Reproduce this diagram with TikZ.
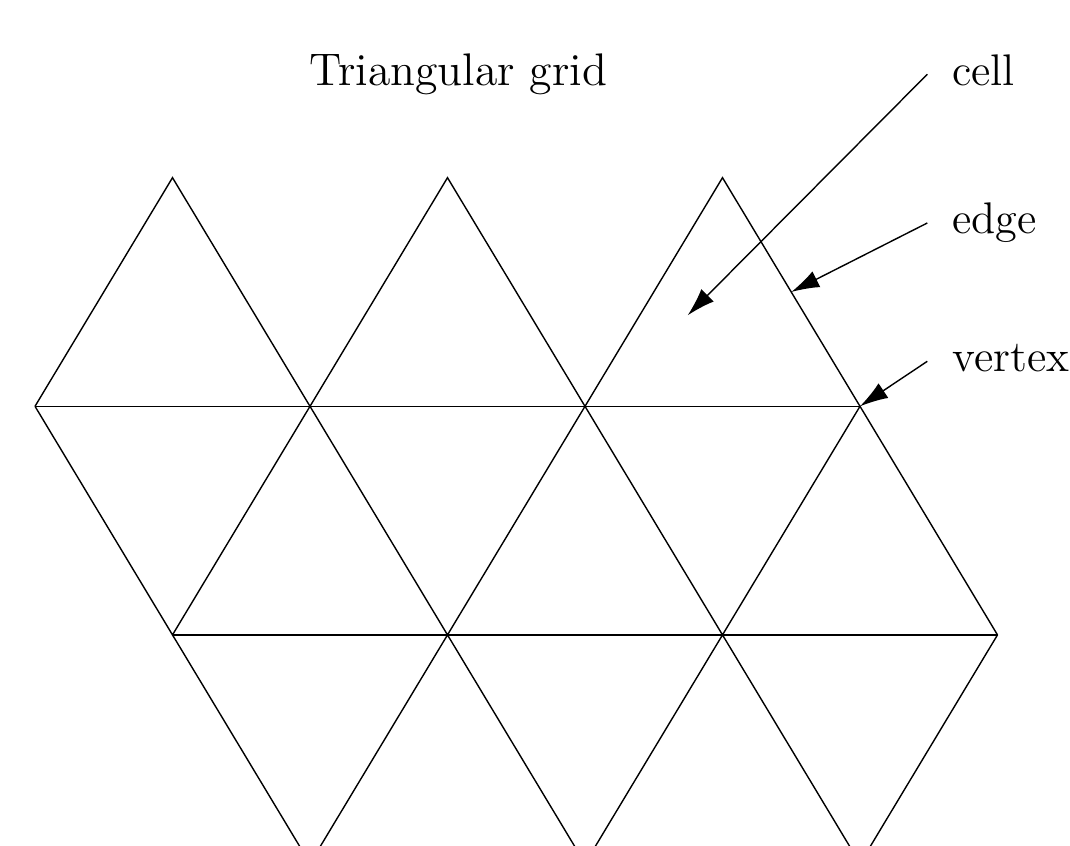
\documentclass[tikz,border=0pt]{standalone}
\usepackage{tikz}
\usepackage{xcolor}
\usetikzlibrary{arrows.meta,calc}
\definecolor{ink}{HTML}{000000}
\tikzset{
  gridline/.style={draw=ink, line width=0.4pt, line join=miter},
  pointer/.style={-{Latex[length=8pt,width=5pt]}, line width=0.4pt, draw=ink},
  heading/.style={anchor=base, inner sep=0pt, font=\fontsize{13pt}{16pt}\selectfont, text=ink},
  note/.style={anchor=base west, inner sep=0pt, font=\fontsize{12.6pt}{15pt}\selectfont, text=ink}
}
\begin{document}
\begin{tikzpicture}
        \useasboundingbox (0,0) rectangle (10.70,-8.46);
        \clip (0,0) rectangle (10.70,-8.46);
        % lattice points, row by row
        \foreach \i in {0,1,2} {
          \coordinate (a\i) at ({1.725+2.75*\i},-1.777);
          \coordinate (d\i) at ({3.100+2.75*\i},-8.635);
        }
        \foreach \i in {0,...,3} {
          \coordinate (b\i) at ({0.350+2.75*\i},-4.063);
          \coordinate (c\i) at ({1.725+2.75*\i},-6.349);
        }
        \draw[gridline] (b0) -- (a0) -- (b1) -- (a1) -- (b2) -- (a2) -- (b3);
        \draw[gridline] (b0) -- (b3);
        \draw[gridline] (b0) -- (c0) -- (b1) -- (c1) -- (b2) -- (c2) -- (b3) -- (c3);
        \draw[gridline] (c0) -- (c3);
        \draw[gridline] (c0) -- (d0) -- (c1) -- (d1) -- (c2) -- (d2) -- (c3);
        \node[heading] (title) at (4.584,-0.86) {Triangular grid};
        \node[note] (cell) at (9.517,-0.86) {cell};
        \node[note] (edge) at (9.517,-2.34) {edge};
        \node[note] (vertex) at (9.517,-3.717) {vertex};
        \coordinate (incell) at (6.877,-3.153);
        \draw[pointer] ([shift={(-0.244,0.117)}]cell.base west) -- (incell);
        \draw[pointer] ([shift={(-0.244,0.110)}]edge.base west) -- ($(a2)!0.5!(b3)$);
        \draw[pointer] ([shift={(-0.244,0.104)}]vertex.base west) -- (b3);
      \end{tikzpicture}
\end{document}
